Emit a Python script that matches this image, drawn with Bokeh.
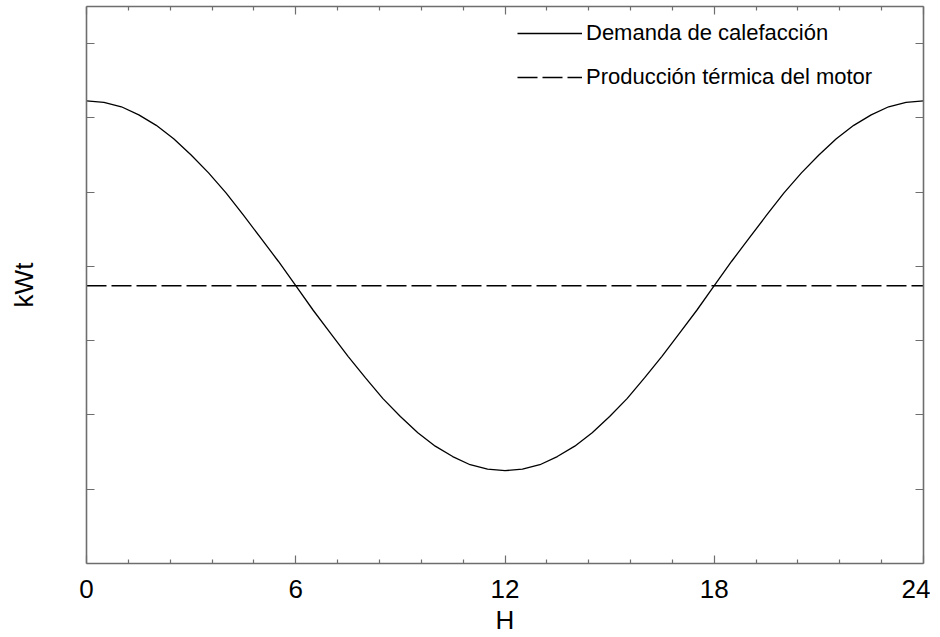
from bokeh.plotting import figure
from bokeh.models import Range1d, FixedTicker, LinearAxis, Legend, LegendItem
from bokeh.embed import file_html
from bokeh.resources import INLINE

# Data
hours = [0, 0.5, 1, 1.5, 2, 2.5, 3, 3.5, 4, 4.5, 5, 5.5, 6, 6.5, 7, 7.5, 8, 8.5,
         9, 9.5, 10, 10.5, 11, 11.5, 12, 12.5, 13, 13.5, 14, 14.5, 15, 15.5, 16,
         16.5, 17, 17.5, 18, 18.5, 19, 19.5, 20, 20.5, 21, 21.5, 22, 22.5, 23,
         23.5, 24]
demanda = [6.23, 6.21, 6.15, 6.04, 5.90, 5.72, 5.50, 5.26, 4.99, 4.69, 4.38,
           4.07, 3.74, 3.41, 3.10, 2.79, 2.50, 2.22, 1.98, 1.76, 1.58, 1.44,
           1.33, 1.27, 1.25, 1.27, 1.33, 1.44, 1.58, 1.76, 1.98, 2.22, 2.50,
           2.79, 3.10, 3.41, 3.74, 4.07, 4.38, 4.69, 4.99, 5.26, 5.50, 5.72,
           5.90, 6.04, 6.15, 6.21, 6.23]
produccion_x = [0, 24]
produccion = [3.74, 3.74]

x_major = [0, 6, 12, 18, 24]
x_minor = [1.2, 2.4, 3.6, 4.8, 7.2, 8.4, 9.6, 10.8, 13.2, 14.4, 15.6, 16.8,
           19.2, 20.4, 21.6, 22.8]
y_major = [1, 2, 3, 4, 5, 6, 7]
x_title = "H"
y_title = "kWt"

FONT = "Liberation Sans"
AX = "#6e6e6e"

p = figure(width=930, height=637, x_range=Range1d(0, 24), y_range=Range1d(0, 7.5),
           output_backend="svg", toolbar_location=None,
           min_border_left=86, min_border_right=7, min_border_top=6,
           min_border_bottom=10, x_axis_location=None, y_axis_location=None)
p.xgrid.visible = False
p.ygrid.visible = False
p.outline_line_color = None
p.background_fill_color = "white"
p.border_fill_color = "white"


def style(ax, ticker, labels=True):
    ax.ticker = ticker
    ax.axis_line_color = AX
    ax.axis_line_width = 1.6
    ax.major_tick_line_color = AX
    ax.minor_tick_line_color = AX
    ax.major_tick_line_width = 1.2
    ax.minor_tick_line_width = 1.2
    ax.major_tick_in = 8
    ax.major_tick_out = 0
    ax.minor_tick_in = 4
    ax.minor_tick_out = 0
    ax.major_label_text_font = FONT
    ax.major_label_text_font_size = "26px"
    ax.major_label_text_color = "black"
    if not labels:
        ax.major_label_overrides = {t: "" for t in ticker.ticks}
        ax.major_label_standoff = 0


xb = LinearAxis()
style(xb, FixedTicker(ticks=x_major, minor_ticks=x_minor))
xb.major_label_standoff = 16
xb.axis_label = x_title
xb.axis_label_text_font = FONT
xb.axis_label_text_font_size = "26px"
xb.axis_label_text_font_style = "normal"
xb.axis_label_text_color = "black"
xb.axis_label_standoff = 4
p.add_layout(xb, "below")

xa = LinearAxis()
style(xa, FixedTicker(ticks=x_major, minor_ticks=x_minor), labels=False)
p.add_layout(xa, "above")

yl = LinearAxis()
style(yl, FixedTicker(ticks=y_major, minor_ticks=[]), labels=False)
yl.axis_label = y_title
yl.axis_label_text_font = FONT
yl.axis_label_text_font_size = "26px"
yl.axis_label_text_font_style = "normal"
yl.axis_label_text_color = "black"
yl.axis_label_standoff = 48
p.add_layout(yl, "left")

yr = LinearAxis()
style(yr, FixedTicker(ticks=y_major, minor_ticks=[]), labels=False)
p.add_layout(yr, "right")

r1 = p.line(hours, demanda, line_color="black", line_width=1.3)
r2 = p.line(produccion_x, produccion, line_color="black", line_width=1.3,
            line_dash="20 5")

legend = Legend(items=[LegendItem(label="Demanda de calefacción", renderers=[r1]),
                       LegendItem(label="Producción térmica del motor", renderers=[r2])],
                location=(431, 473), border_line_color=None,
                background_fill_alpha=0, padding=0, margin=0, spacing=18,
                glyph_width=65, glyph_height=24, label_standoff=4,
                label_text_font=FONT, label_text_font_size="22px",
                label_height=24, label_text_color="black")
p.add_layout(legend, "center")

open("out.html", "w").write(file_html(p, INLINE))
